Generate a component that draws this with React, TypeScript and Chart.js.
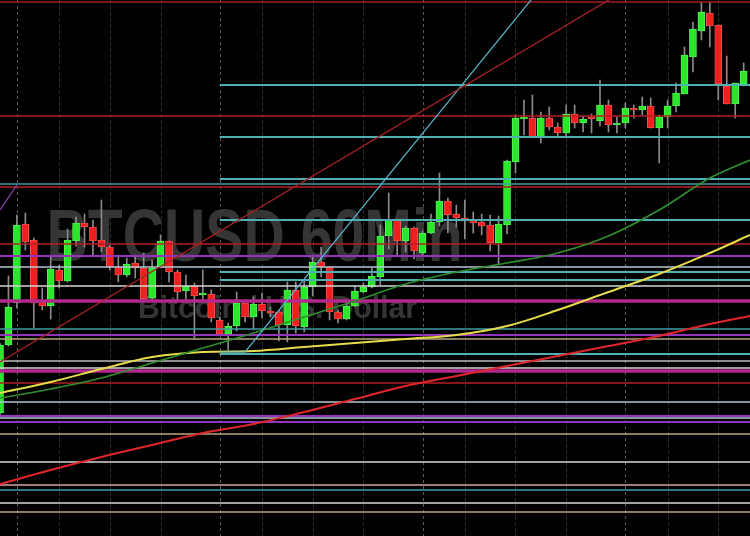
import React, { useEffect, useRef } from "react";
import { Chart, registerables } from "chart.js";
Chart.register(...registerables);

// ---- Candles (60 min BTCUSD) ----
const opens = [9587,9655,9697,9776,9760,9698,9694,9730,9719,9759,9777,9773,9760,9753,9733,9725,9737,9732,9702,9733,9759,9728,9709,9714,9705,9706,9680,9666,9674,9697,9683,9696,9688,9688,9675,9710,9673,9713,9738,9733,9688,9681,9694,9708,9713,9723,9764,9780,9759,9772,9747,9767,9778,9799,9786,9782,9780,9778,9775,9757,9775,9838,9881,9882,9863,9882,9873,9867,9886,9877,9882,9879,9895,9875,9877,9892,9890,9894,9872,9883,9894,9906,9943,9969,9987,9975,9914,9896,9916];
const highs = [9657,9724,9785,9787,9762,9712,9745,9735,9771,9783,9786,9780,9800,9755,9745,9742,9745,9747,9740,9765,9759,9730,9725,9717,9730,9710,9683,9677,9708,9697,9703,9707,9693,9690,9718,9718,9720,9745,9753,9733,9690,9698,9714,9717,9732,9775,9807,9781,9774,9773,9769,9786,9827,9802,9795,9800,9788,9786,9785,9784,9840,9885,9900,9905,9888,9893,9877,9895,9895,9884,9886,9920,9900,9883,9897,9895,9903,9902,9885,9900,9917,9953,9978,9998,9998,9975,9944,9917,9937];
const lows = [9584,9654,9692,9750,9672,9690,9681,9712,9718,9754,9753,9744,9748,9730,9718,9723,9722,9700,9700,9732,9718,9700,9700,9662,9700,9678,9665,9650,9669,9678,9670,9682,9683,9659,9658,9667,9668,9704,9723,9680,9677,9680,9693,9707,9712,9715,9751,9745,9748,9741,9745,9766,9774,9767,9773,9761,9767,9765,9749,9735,9766,9827,9865,9863,9857,9870,9863,9863,9872,9868,9867,9874,9868,9867,9872,9882,9885,9872,9837,9872,9888,9906,9928,9960,9953,9900,9896,9882,9914];
const closes = [9655,9693,9775,9758,9697,9694,9731,9719,9760,9777,9773,9759,9753,9733,9725,9736,9732,9701,9732,9759,9728,9708,9714,9704,9706,9682,9666,9674,9697,9683,9696,9689,9687,9675,9710,9674,9713,9738,9733,9688,9681,9694,9709,9713,9724,9764,9780,9759,9772,9749,9767,9778,9799,9785,9782,9779,9777,9774,9757,9776,9839,9882,9882,9863,9882,9873,9867,9886,9877,9881,9881,9895,9875,9876,9892,9890,9894,9872,9883,9894,9907,9945,9971,9988,9974,9916,9896,9917,9929];

// ---- Moving averages (sampled every 6 bars) ----
const maIndex = [0,6,12,18,24,30,36,42,48,54,60,66,72,78,84,88.75];
const maGreen = [9602,9611,9622,9637,9652,9667,9683,9699,9716,9728,9737,9747,9764,9790,9822,9840];
const maYellow = [9607,9618,9631,9643,9648,9649,9653,9657,9661,9665,9674,9690,9708,9726,9747,9765];
const maRed = [9516,9530,9543,9555,9567,9576,9588,9601,9614,9624,9634,9644,9654,9664,9676,9684];

// ---- Horizontal levels ----
const levelPrices = [9998,9915,9884,9863,9821,9816,9813,9780,9756,9744,9733,9728,9720,9714,9699,9671,9665,9661,9646,9639,9632,9629,9617,9598,9584,9582,9578,9566,9538,9515,9510,9497,9488];
const levelStart = [0,26,0,26,26,0,0,26,0,0,0,26,26,0,0,0,0,0,26,0,0,0,0,0,0,0,0,0,0,0,0,0,0];
const levelKind = ["dred","cyan","red","cyan","cyan","teal","red","cyan","red","purple","gblue","cyan","cyan","white","magenta","teal","purple","tan","cyan","gray","white","magenta","red","gblue","purple","gblue","purple","tan","white","salmon","teal","white","tan"];

// ---- Trend lines ----
const redTrendIdx = [0, 80];
const redTrendPrice = [9638, 10040];
const cyanTrendIdx = [26, 29, 66];
const cyanTrendPrice = [9648, 9648, 10033];
const purpleTrendIdx = [0, 2];
const purpleTrendPrice = [9790, 9815];

// ---- Grid (bar indices) ----
const gridIdx = [2,7,13,19,26,31,37,43,50,55,61,67,74,79,85];
const daySepIdx = [2,26,50,74];

const TITLE = "BTCUSD 60Min";
const SUBTITLE = "Bitcoin / U.S. Dollar";

const X_MAX = 88.75;
const Y_MIN = 9464;
const Y_MAX = 10000;

const kindColor: Record<string, string> = {
  dred: "#a01c1c",
  red: "#b51f25",
  cyan: "#4fb0b4",
  teal: "#3f9ea6",
  purple: "#9434b8",
  gblue: "#b4c6d2",
  white: "#d6d6d6",
  gray: "#bdbdbd",
  magenta: "#b3278e",
  tan: "#b8a77a",
  salmon: "#d9a3a3",
};
const kindWidth: Record<string, number> = {
  magenta: 3.5,
  cyan: 2,
  purple: 2,
};

export default function App() {
  const ref = useRef<HTMLCanvasElement | null>(null);

  useEffect(() => {
    document.body.style.margin = "0";
    document.body.style.background = "#000";
    const canvas = ref.current;
    if (!canvas) return;

    const green = "#2be62b";
    const red = "#ee1f1f";
    const isUp = opens.map((o, i) => closes[i] >= o);

    const bodies = opens.map((o, i) => ({ x: i, y: [o, closes[i]] }));
    const wicks = opens.map((_, i) => ({ x: i, y: [lows[i], highs[i]] }));

    const lineDs = (data: { x: number; y: number }[], color: string, width: number, order = -1, tension = 0) => ({
      type: "line" as const,
      data,
      borderColor: color,
      borderWidth: width,
      pointRadius: 0,
      tension,
      order,
      fill: false,
    });

    const levelSets = levelPrices.map((p, k) =>
      lineDs(
        [
          { x: levelStart[k], y: p },
          { x: X_MAX, y: p },
        ],
        kindColor[levelKind[k]],
        kindWidth[levelKind[k]] ?? 1.5,
        -1
      )
    );

    const ma = (vals: number[]) => vals.map((v, k) => ({ x: maIndex[k], y: v }));

    const bgPlugin = {
      id: "bgGridWatermark",
      beforeDraw(chart: any) {
        const { ctx, chartArea, scales } = chart;
        ctx.save();
        ctx.fillStyle = "#000";
        ctx.fillRect(0, 0, chart.width, chart.height);
        gridIdx.forEach((gi) => {
          const px = Math.round(scales.x.getPixelForValue(gi)) + 0.5;
          const isDay = daySepIdx.includes(gi);
          ctx.beginPath();
          ctx.strokeStyle = isDay ? "rgba(120,120,120,0.75)" : "rgba(70,70,70,0.6)";
          ctx.lineWidth = 1;
          ctx.setLineDash(isDay ? [3, 3] : [4, 2]);
          ctx.moveTo(px, chartArea.top);
          ctx.lineTo(px, chartArea.bottom);
          ctx.stroke();
        });
        ctx.setLineDash([]);
        const w = chartArea.right - chartArea.left;
        const h = chartArea.bottom - chartArea.top;
        ctx.fillStyle = "rgba(62,62,62,0.85)";
        ctx.textBaseline = "alphabetic";
        ctx.textAlign = "left";
        ctx.font = "bold 74px 'Liberation Sans', Arial, sans-serif";
        ctx.fillText(TITLE, chartArea.left + w * 0.062, chartArea.top + h * 0.487, w * 0.555);
        ctx.font = "bold 31px 'Liberation Sans', Arial, sans-serif";
        ctx.fillText(SUBTITLE, chartArea.left + w * 0.184, chartArea.top + h * 0.593, w * 0.372);
        ctx.restore();
      },
    };

    const chart = new Chart(canvas, {
      type: "bar",
      data: {
        datasets: [
          {
            type: "bar",
            data: wicks as any,
            backgroundColor: "#8a8a8a",
            barThickness: 1,
            grouped: false,
            order: 3,
          } as any,
          {
            type: "bar",
            data: bodies as any,
            backgroundColor: isUp.map((u) => (u ? green : red)),
            borderColor: isUp.map((u) => (u ? "#5cff5c" : "#ff6060")),
            borderWidth: 0.8,
            borderSkipped: false,
            barThickness: 7,
            minBarLength: 2,
            grouped: false,
            order: 2,
          } as any,
          ...levelSets,
          lineDs(ma(maRed), "#e0262a", 2, -2, 0.35),
          lineDs(ma(maGreen), "#2f8f2f", 1.6, -2, 0.35),
          lineDs(ma(maYellow), "#e6dc4a", 2, -2, 0.35),
          lineDs(redTrendIdx.map((x, k) => ({ x, y: redTrendPrice[k] })), "#a82222", 1.3, -3),
          lineDs(cyanTrendIdx.map((x, k) => ({ x, y: cyanTrendPrice[k] })), "#59b8d0", 1.2, -3),
          lineDs(purpleTrendIdx.map((x, k) => ({ x, y: purpleTrendPrice[k] })), "#8c3fb0", 1.3, -3),
        ] as any,
      },
      options: {
        animation: false,
        responsive: false,
        maintainAspectRatio: false,
        layout: { padding: 0 },
        plugins: { legend: { display: false }, tooltip: { enabled: false } },
        scales: {
          x: { type: "linear", min: 0, max: X_MAX, display: false, offset: false },
          y: { type: "linear", min: Y_MIN, max: Y_MAX, display: false },
        },
      } as any,
      plugins: [bgPlugin],
    });
    return () => chart.destroy();
  }, []);

  return (
    <div style={{ position: "fixed", left: 0, top: 0, width: 750, height: 536, background: "#000" }}>
      <canvas ref={ref} width={750} height={536} style={{ display: "block", width: 750, height: 536 }} />
    </div>
  );
}
